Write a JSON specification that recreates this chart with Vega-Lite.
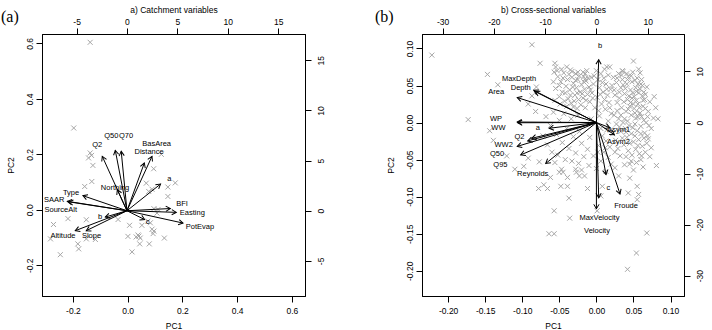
{
  "$schema": "https://vega.github.io/schema/vega-lite/v6.json",
  "background": "white",
  "padding": {"left": 0, "top": 4, "right": 0, "bottom": 0},
  "spacing": 49,
  "config": {
    "view": {"stroke": "black", "strokeWidth": 1},
    "font": "Liberation Sans",
    "axis": {
      "grid": false,
      "domainColor": "black",
      "tickColor": "black",
      "labelColor": "black",
      "titleColor": "black",
      "tickSize": 6,
      "labelFont": "Liberation Sans",
      "titleFont": "Liberation Sans",
      "labelFontSize": 8.5,
      "titleFontSize": 8.5,
      "titleFontWeight": "normal",
      "labelFlush": false,
      "labelOverlap": false
    }
  },
  "datasets": {
    "scoresA": [
      {"pc1": -0.137, "pc2": 0.604}, {"pc1": -0.197, "pc2": 0.295}, {"pc1": -0.137, "pc2": 0.205},
      {"pc1": -0.143, "pc2": 0.187}, {"pc1": -0.132, "pc2": 0.196}, {"pc1": -0.127, "pc2": 0.160},
      {"pc1": -0.131, "pc2": 0.102}, {"pc1": -0.157, "pc2": 0.084}, {"pc1": 0.123, "pc2": 0.200},
      {"pc1": 0.095, "pc2": 0.148}, {"pc1": 0.068, "pc2": 0.096}, {"pc1": 0.089, "pc2": 0.074},
      {"pc1": 0.077, "pc2": 0.066}, {"pc1": 0.174, "pc2": 0.097}, {"pc1": 0.147, "pc2": 0.082},
      {"pc1": 0.147, "pc2": 0.048}, {"pc1": -0.271, "pc2": -0.053}, {"pc1": -0.218, "pc2": -0.032},
      {"pc1": -0.151, "pc2": -0.036}, {"pc1": -0.035, "pc2": -0.035}, {"pc1": 0.007, "pc2": -0.056},
      {"pc1": 0.052, "pc2": -0.056}, {"pc1": 0.083, "pc2": -0.047}, {"pc1": 0.089, "pc2": -0.070},
      {"pc1": 0.096, "pc2": -0.077}, {"pc1": 0.093, "pc2": -0.086}, {"pc1": 0.001, "pc2": -0.096},
      {"pc1": 0.038, "pc2": -0.091}, {"pc1": 0.041, "pc2": -0.095}, {"pc1": 0.031, "pc2": -0.098},
      {"pc1": 0.046, "pc2": -0.102}, {"pc1": 0.134, "pc2": -0.102}, {"pc1": -0.282, "pc2": -0.105},
      {"pc1": -0.182, "pc2": -0.123}, {"pc1": -0.179, "pc2": -0.141}, {"pc1": -0.151, "pc2": -0.105},
      {"pc1": -0.118, "pc2": -0.107}, {"pc1": 0.044, "pc2": -0.123}, {"pc1": 0.079, "pc2": -0.123},
      {"pc1": 0.016, "pc2": -0.152}, {"pc1": -0.246, "pc2": -0.162}, {"pc1": 0.096, "pc2": 0.004},
      {"pc1": 0.111, "pc2": 0.001}, {"pc1": 0.107, "pc2": -0.012}, {"pc1": 0.074, "pc2": -0.041}
    ],
    "loadingsA": [
      {"var": "Q2", "u": -2.45, "v": 5.42, "lu": -2.95, "lv": 6.58},
      {"var": "Q50", "u": -1.16, "v": 6.02, "lu": -1.55, "lv": 7.42},
      {"var": "Q70", "u": -0.57, "v": 5.92, "lu": -0.1, "lv": 7.42},
      {"var": "BasArea", "u": 2.48, "v": 5.42, "lu": 2.94, "lv": 6.7},
      {"var": "Distance", "u": 1.72, "v": 4.76, "lu": 2.19, "lv": 5.88},
      {"var": "a", "u": 3.33, "v": 2.66, "lu": 4.2, "lv": 3.19},
      {"var": "Northing", "u": -0.96, "v": 2.09, "lu": -1.19, "lv": 2.26},
      {"var": "Type", "u": -4.37, "v": 1.5, "lu": -5.55, "lv": 1.76},
      {"var": "SAAR", "u": -5.92, "v": 0.94, "lu": -7.23, "lv": 1.04},
      {"var": "SourceAlt", "u": -5.79, "v": 0.89, "lu": -6.57, "lv": 0.04},
      {"var": "BFI", "u": 4.3, "v": 0.22, "lu": 5.46, "lv": 0.67},
      {"var": "Easting", "u": 4.89, "v": -0.16, "lu": 6.48, "lv": -0.23},
      {"var": "PotEvap", "u": 5.56, "v": -1.23, "lu": 7.24, "lv": -1.66},
      {"var": "c", "u": 1.75, "v": -0.88, "lu": 2.04, "lv": -1.16},
      {"var": "b", "u": -2.15, "v": -0.63, "lu": -2.68, "lv": -0.63},
      {"var": "Altitude", "u": -5.13, "v": -1.99, "lu": -6.35, "lv": -2.55},
      {"var": "Slope", "u": -4.04, "v": -1.99, "lu": -3.52, "lv": -2.55}
    ],
    "scoresB": [
      {"pc1": -0.222, "pc2": 0.091}, {"pc1": -0.087, "pc2": 0.105}, {"pc1": -0.076, "pc2": 0.080},
      {"pc1": -0.147, "pc2": 0.065}, {"pc1": -0.133, "pc2": 0.051}, {"pc1": -0.081, "pc2": 0.048},
      {"pc1": -0.087, "pc2": 0.036}, {"pc1": -0.092, "pc2": 0.025}, {"pc1": -0.082, "pc2": 0.015},
      {"pc1": -0.173, "pc2": 0.004}, {"pc1": -0.144, "pc2": -0.011}, {"pc1": -0.139, "pc2": -0.024},
      {"pc1": -0.121, "pc2": -0.045}, {"pc1": -0.092, "pc2": -0.048}, {"pc1": -0.077, "pc2": -0.053},
      {"pc1": -0.110, "pc2": -0.063}, {"pc1": -0.098, "pc2": -0.059}, {"pc1": -0.078, "pc2": -0.089},
      {"pc1": -0.071, "pc2": -0.084}, {"pc1": -0.066, "pc2": -0.089}, {"pc1": -0.048, "pc2": -0.086},
      {"pc1": -0.039, "pc2": -0.086}, {"pc1": -0.037, "pc2": -0.102}, {"pc1": -0.057, "pc2": -0.119},
      {"pc1": -0.036, "pc2": -0.129}, {"pc1": -0.064, "pc2": -0.150}, {"pc1": -0.057, "pc2": -0.150},
      {"pc1": 0.001, "pc2": -0.119}, {"pc1": 0.042, "pc2": -0.198}, {"pc1": 0.054, "pc2": -0.176},
      {"pc1": 0.068, "pc2": -0.149}, {"pc1": 0.055, "pc2": -0.086}, {"pc1": 0.057, "pc2": -0.097},
      {"pc1": 0.055, "pc2": -0.104}, {"pc1": 0.043, "pc2": -0.095}, {"pc1": -0.012, "pc2": -0.089},
      {"pc1": 0.008, "pc2": -0.086}, {"pc1": 0.006, "pc2": -0.099}, {"pc1": -0.023, "pc2": -0.072},
      {"pc1": -0.027, "pc2": -0.067}, {"pc1": -0.016, "pc2": -0.072}, {"pc1": -0.039, "pc2": -0.074},
      {"pc1": -0.050, "pc2": -0.067}, {"pc1": -0.028, "pc2": -0.063}, {"pc1": 0.081, "pc2": -0.058},
      {"pc1": 0.072, "pc2": -0.046}, {"pc1": 0.074, "pc2": -0.034}, {"pc1": 0.070, "pc2": -0.022},
      {"pc1": 0.069, "pc2": -0.018}, {"pc1": 0.061, "pc2": -0.045}, {"pc1": 0.054, "pc2": -0.054},
      {"pc1": 0.045, "pc2": -0.056}, {"pc1": -0.056, "pc2": -0.054}, {"pc1": -0.047, "pc2": -0.063},
      {"pc1": -0.045, "pc2": -0.067}, {"pc1": -0.062, "pc2": -0.074}, {"pc1": 0.050, "pc2": 0.083},
      {"pc1": -0.056, "pc2": 0.080}, {"pc1": -0.055, "pc2": 0.075}, {"pc1": -0.057, "pc2": 0.068},
      {"pc1": 0.014, "pc2": 0.075}, {"pc1": 0.018, "pc2": 0.075}, {"pc1": -0.018, "pc2": 0.068},
      {"pc1": -0.015, "pc2": 0.066}, {"pc1": 0.057, "pc2": 0.072}, {"pc1": 0.059, "pc2": 0.067},
      {"pc1": 0.036, "pc2": 0.069}, {"pc1": 0.041, "pc2": 0.066}, {"pc1": -0.033, "pc2": 0.069},
      {"pc1": -0.025, "pc2": 0.068}, {"pc1": -0.015, "pc2": 0.059}, {"pc1": 0.062, "pc2": 0.050},
      {"pc1": 0.064, "pc2": 0.041}, {"pc1": 0.062, "pc2": 0.036}, {"pc1": 0.065, "pc2": 0.031},
      {"pc1": 0.058, "pc2": 0.012}, {"pc1": 0.056, "pc2": 0.007},
      {"pc1": -0.052, "pc2": 0.062}, {"pc1": -0.048, "pc2": 0.055}, {"pc1": -0.044, "pc2": 0.067},
      {"pc1": -0.041, "pc2": 0.049}, {"pc1": -0.046, "pc2": 0.041}, {"pc1": -0.039, "pc2": 0.058},
      {"pc1": -0.036, "pc2": 0.044}, {"pc1": -0.033, "pc2": 0.061}, {"pc1": -0.031, "pc2": 0.053},
      {"pc1": -0.029, "pc2": 0.037}, {"pc1": -0.027, "pc2": 0.047}, {"pc1": -0.025, "pc2": 0.058},
      {"pc1": -0.022, "pc2": 0.041}, {"pc1": -0.020, "pc2": 0.051}, {"pc1": -0.018, "pc2": 0.033},
      {"pc1": -0.016, "pc2": 0.045}, {"pc1": -0.014, "pc2": 0.056}, {"pc1": -0.012, "pc2": 0.038},
      {"pc1": -0.010, "pc2": 0.048}, {"pc1": -0.009, "pc2": 0.028}, {"pc1": -0.038, "pc2": 0.032},
      {"pc1": -0.034, "pc2": 0.026}, {"pc1": -0.030, "pc2": 0.029}, {"pc1": -0.043, "pc2": 0.029},
      {"pc1": -0.050, "pc2": 0.035}, {"pc1": -0.055, "pc2": 0.046}, {"pc1": -0.058, "pc2": 0.055},
      {"pc1": -0.024, "pc2": 0.031}, {"pc1": -0.021, "pc2": 0.024}, {"pc1": -0.017, "pc2": 0.062},
      {"pc1": -0.013, "pc2": 0.070}, {"pc1": -0.028, "pc2": 0.066}, {"pc1": -0.035, "pc2": 0.071},
      {"pc1": -0.040, "pc2": 0.075}, {"pc1": -0.047, "pc2": 0.072}, {"pc1": -0.006, "pc2": 0.040},
      {"pc1": -0.004, "pc2": 0.052}, {"pc1": -0.007, "pc2": 0.061}, {"pc1": -0.026, "pc2": 0.019},
      {"pc1": -0.015, "pc2": 0.020},
      {"pc1": -0.053, "pc2": 0.070}, {"pc1": -0.050, "pc2": 0.050}, {"pc1": -0.045, "pc2": 0.060},
      {"pc1": -0.042, "pc2": 0.040}, {"pc1": -0.037, "pc2": 0.065}, {"pc1": -0.035, "pc2": 0.037},
      {"pc1": -0.032, "pc2": 0.048}, {"pc1": -0.028, "pc2": 0.057}, {"pc1": -0.026, "pc2": 0.040},
      {"pc1": -0.023, "pc2": 0.063}, {"pc1": -0.019, "pc2": 0.039}, {"pc1": -0.017, "pc2": 0.055},
      {"pc1": -0.014, "pc2": 0.030}, {"pc1": -0.011, "pc2": 0.060}, {"pc1": -0.008, "pc2": 0.044},
      {"pc1": -0.005, "pc2": 0.033}, {"pc1": -0.031, "pc2": 0.021}, {"pc1": -0.040, "pc2": 0.022},
      {"pc1": -0.049, "pc2": 0.025}, {"pc1": -0.056, "pc2": 0.030},
      {"pc1": -0.068, "pc2": 0.008}, {"pc1": -0.062, "pc2": -0.004}, {"pc1": -0.058, "pc2": 0.014},
      {"pc1": -0.054, "pc2": -0.016}, {"pc1": -0.050, "pc2": 0.003}, {"pc1": -0.046, "pc2": -0.027},
      {"pc1": -0.044, "pc2": 0.012}, {"pc1": -0.040, "pc2": -0.008}, {"pc1": -0.037, "pc2": -0.035},
      {"pc1": -0.034, "pc2": 0.005}, {"pc1": -0.031, "pc2": -0.019}, {"pc1": -0.028, "pc2": -0.041},
      {"pc1": -0.025, "pc2": 0.010}, {"pc1": -0.023, "pc2": -0.012}, {"pc1": -0.020, "pc2": -0.028},
      {"pc1": -0.017, "pc2": -0.046}, {"pc1": -0.066, "pc2": -0.030}, {"pc1": -0.060, "pc2": -0.040},
      {"pc1": -0.052, "pc2": -0.044}, {"pc1": -0.072, "pc2": -0.018}, {"pc1": -0.012, "pc2": -0.036},
      {"pc1": -0.009, "pc2": -0.020}, {"pc1": -0.042, "pc2": -0.050}, {"pc1": -0.033, "pc2": -0.052},
      {"pc1": -0.024, "pc2": -0.055},
      {"pc1": -0.003, "pc2": 0.063}, {"pc1": 0.002, "pc2": 0.058}, {"pc1": 0.006, "pc2": 0.066},
      {"pc1": 0.010, "pc2": 0.060}, {"pc1": 0.013, "pc2": 0.052}, {"pc1": 0.016, "pc2": 0.064},
      {"pc1": 0.004, "pc2": 0.047}, {"pc1": 0.009, "pc2": 0.041}, {"pc1": 0.015, "pc2": 0.037},
      {"pc1": 0.019, "pc2": 0.045}, {"pc1": 0.001, "pc2": 0.034}, {"pc1": 0.007, "pc2": 0.025},
      {"pc1": 0.012, "pc2": 0.018}, {"pc1": 0.017, "pc2": 0.027}, {"pc1": 0.020, "pc2": 0.012},
      {"pc1": -0.002, "pc2": 0.020}, {"pc1": 0.004, "pc2": 0.009}, {"pc1": 0.016, "pc2": 0.002},
      {"pc1": 0.019, "pc2": -0.010}, {"pc1": 0.008, "pc2": -0.018}, {"pc1": 0.013, "pc2": -0.025},
      {"pc1": 0.018, "pc2": -0.033}, {"pc1": 0.003, "pc2": -0.031}, {"pc1": 0.010, "pc2": -0.040},
      {"pc1": 0.016, "pc2": -0.047}, {"pc1": -0.004, "pc2": -0.045}, {"pc1": 0.006, "pc2": -0.052},
      {"pc1": 0.020, "pc2": -0.056}, {"pc1": -0.007, "pc2": 0.005}, {"pc1": 0.011, "pc2": 0.072},
      {"pc1": 0.000, "pc2": 0.070}, {"pc1": 0.008, "pc2": 0.054}, {"pc1": 0.005, "pc2": 0.038},
      {"pc1": 0.014, "pc2": 0.045}, {"pc1": 0.011, "pc2": 0.031}, {"pc1": 0.018, "pc2": 0.020},
      {"pc1": 0.003, "pc2": 0.016}, {"pc1": 0.014, "pc2": -0.010}, {"pc1": 0.006, "pc2": -0.008},
      {"pc1": 0.012, "pc2": -0.034}, {"pc1": 0.002, "pc2": -0.040},
      {"pc1": 0.023, "pc2": 0.061}, {"pc1": 0.027, "pc2": 0.054}, {"pc1": 0.030, "pc2": 0.066},
      {"pc1": 0.033, "pc2": 0.047}, {"pc1": 0.035, "pc2": 0.058}, {"pc1": 0.038, "pc2": 0.039},
      {"pc1": 0.041, "pc2": 0.052}, {"pc1": 0.043, "pc2": 0.062}, {"pc1": 0.046, "pc2": 0.044},
      {"pc1": 0.048, "pc2": 0.055}, {"pc1": 0.051, "pc2": 0.035}, {"pc1": 0.053, "pc2": 0.047},
      {"pc1": 0.055, "pc2": 0.060}, {"pc1": 0.057, "pc2": 0.040}, {"pc1": 0.060, "pc2": 0.052},
      {"pc1": 0.025, "pc2": 0.037}, {"pc1": 0.028, "pc2": 0.027}, {"pc1": 0.031, "pc2": 0.033},
      {"pc1": 0.034, "pc2": 0.020}, {"pc1": 0.037, "pc2": 0.028}, {"pc1": 0.040, "pc2": 0.015},
      {"pc1": 0.042, "pc2": 0.031}, {"pc1": 0.045, "pc2": 0.022}, {"pc1": 0.047, "pc2": 0.010},
      {"pc1": 0.050, "pc2": 0.025}, {"pc1": 0.052, "pc2": 0.013}, {"pc1": 0.054, "pc2": 0.030},
      {"pc1": 0.058, "pc2": 0.020}, {"pc1": 0.061, "pc2": 0.008}, {"pc1": 0.063, "pc2": 0.022},
      {"pc1": 0.024, "pc2": 0.010}, {"pc1": 0.027, "pc2": -0.002}, {"pc1": 0.030, "pc2": 0.005},
      {"pc1": 0.033, "pc2": -0.012}, {"pc1": 0.036, "pc2": 0.000}, {"pc1": 0.039, "pc2": -0.008},
      {"pc1": 0.041, "pc2": -0.020}, {"pc1": 0.044, "pc2": -0.004}, {"pc1": 0.047, "pc2": -0.015},
      {"pc1": 0.050, "pc2": -0.026}, {"pc1": 0.052, "pc2": -0.002}, {"pc1": 0.055, "pc2": -0.011},
      {"pc1": 0.057, "pc2": -0.023}, {"pc1": 0.060, "pc2": -0.005}, {"pc1": 0.062, "pc2": -0.032},
      {"pc1": 0.065, "pc2": -0.014}, {"pc1": 0.067, "pc2": 0.000}, {"pc1": 0.070, "pc2": 0.015},
      {"pc1": 0.066, "pc2": 0.038}, {"pc1": 0.068, "pc2": 0.048}, {"pc1": 0.072, "pc2": 0.028},
      {"pc1": 0.026, "pc2": -0.024}, {"pc1": 0.029, "pc2": -0.035}, {"pc1": 0.032, "pc2": -0.045},
      {"pc1": 0.037, "pc2": -0.030}, {"pc1": 0.043, "pc2": -0.038}, {"pc1": 0.048, "pc2": -0.044},
      {"pc1": 0.053, "pc2": -0.036}, {"pc1": 0.058, "pc2": -0.042}, {"pc1": 0.074, "pc2": -0.008},
      {"pc1": 0.077, "pc2": 0.006}, {"pc1": 0.035, "pc2": 0.070}, {"pc1": 0.049, "pc2": 0.068},
      {"pc1": 0.080, "pc2": 0.020}, {"pc1": 0.078, "pc2": 0.035}, {"pc1": 0.083, "pc2": 0.005},
      {"pc1": 0.021, "pc2": 0.050}, {"pc1": 0.024, "pc2": 0.044}, {"pc1": 0.028, "pc2": 0.060},
      {"pc1": 0.031, "pc2": 0.041}, {"pc1": 0.034, "pc2": 0.064}, {"pc1": 0.036, "pc2": 0.051},
      {"pc1": 0.039, "pc2": 0.046}, {"pc1": 0.042, "pc2": 0.058}, {"pc1": 0.044, "pc2": 0.036},
      {"pc1": 0.047, "pc2": 0.063}, {"pc1": 0.049, "pc2": 0.040}, {"pc1": 0.052, "pc2": 0.057},
      {"pc1": 0.054, "pc2": 0.042}, {"pc1": 0.056, "pc2": 0.052}, {"pc1": 0.059, "pc2": 0.045},
      {"pc1": 0.061, "pc2": 0.058}, {"pc1": 0.063, "pc2": 0.030}, {"pc1": 0.046, "pc2": 0.027},
      {"pc1": 0.043, "pc2": 0.018}, {"pc1": 0.048, "pc2": 0.033}, {"pc1": 0.051, "pc2": 0.019},
      {"pc1": 0.053, "pc2": 0.006}, {"pc1": 0.056, "pc2": 0.025}, {"pc1": 0.059, "pc2": 0.013},
      {"pc1": 0.064, "pc2": 0.003}, {"pc1": 0.066, "pc2": 0.019}, {"pc1": 0.069, "pc2": 0.008},
      {"pc1": 0.071, "pc2": -0.004}, {"pc1": 0.068, "pc2": -0.028}, {"pc1": 0.064, "pc2": -0.021},
      {"pc1": 0.060, "pc2": -0.015}, {"pc1": 0.056, "pc2": -0.031}, {"pc1": 0.052, "pc2": -0.018},
      {"pc1": 0.049, "pc2": -0.007}, {"pc1": 0.045, "pc2": -0.028}, {"pc1": 0.040, "pc2": -0.013},
      {"pc1": 0.035, "pc2": -0.021}, {"pc1": 0.031, "pc2": -0.006}, {"pc1": 0.028, "pc2": 0.016},
      {"pc1": 0.033, "pc2": 0.010}, {"pc1": 0.038, "pc2": 0.005}, {"pc1": 0.042, "pc2": 0.002},
      {"pc1": 0.022, "pc2": -0.015}, {"pc1": 0.025, "pc2": -0.040}, {"pc1": 0.040, "pc2": -0.046},
      {"pc1": 0.047, "pc2": -0.052}, {"pc1": 0.060, "pc2": -0.050}, {"pc1": 0.066, "pc2": -0.040},
      {"pc1": -0.010, "pc2": -0.058}, {"pc1": 0.000, "pc2": -0.062}, {"pc1": 0.013, "pc2": -0.066},
      {"pc1": 0.025, "pc2": -0.061}, {"pc1": 0.038, "pc2": -0.057}, {"pc1": 0.050, "pc2": -0.064},
      {"pc1": 0.063, "pc2": -0.060}, {"pc1": -0.020, "pc2": -0.064}, {"pc1": 0.030, "pc2": -0.072},
      {"pc1": 0.045, "pc2": -0.075}
    ],
    "loadingsB": [
      {"var": "b", "u": 0.45, "v": 12.3, "lu": 0.7, "lv": 15.03},
      {"var": "MaxDepth", "u": -12.23, "v": 6.31, "lu": -15.1, "lv": 8.47},
      {"var": "Depth", "u": -11.94, "v": 6.07, "lu": -14.77, "lv": 6.82},
      {"var": "Area", "u": -15.45, "v": 4.89, "lu": -19.55, "lv": 5.97},
      {"var": "WP", "u": -15.45, "v": 0.1, "lu": -19.59, "lv": 0.71},
      {"var": "WW", "u": -15.36, "v": -0.04, "lu": -19.12, "lv": -0.99},
      {"var": "a", "u": -9.21, "v": -1.12, "lu": -11.45, "lv": -1.12},
      {"var": "Q2", "u": -12.62, "v": -3.09, "lu": -15.0, "lv": -2.8},
      {"var": "WW2", "u": -13.4, "v": -3.59, "lu": -18.1, "lv": -4.45},
      {"var": "Q50", "u": -15.45, "v": -4.67, "lu": -19.4, "lv": -6.1},
      {"var": "Q95", "u": -14.77, "v": -6.34, "lu": -18.73, "lv": -8.28},
      {"var": "Reynolds", "u": -9.89, "v": -8.02, "lu": -12.43, "lv": -10.13},
      {"var": "Asym1", "u": 2.6, "v": -1.0, "lu": 4.35, "lv": -1.46},
      {"var": "Asym2", "u": 3.5, "v": -2.4, "lu": 4.29, "lv": -3.88},
      {"var": "c", "u": 1.87, "v": -10.2, "lu": 2.34, "lv": -12.75},
      {"var": "Froude", "u": 4.6, "v": -14.0, "lu": 5.78, "lv": -16.35},
      {"var": "MaxVelocity", "u": 0.45, "v": -14.72, "lu": 0.59, "lv": -18.66},
      {"var": "Velocity", "u": 0.0, "v": -16.9, "lu": 0.12, "lv": -21.28}
    ]
  },
  "hconcat": [
    {
      "width": 263,
      "height": 262,
      "title": {"text": "(a)", "anchor": "start", "frame": "bounds", "font": "Liberation Serif", "fontSize": 16, "fontWeight": "normal", "color": "black", "offset": 0, "dx": -5, "dy": 20},
      "resolve": {"scale": {"x": "independent", "y": "independent"}},
      "layer": [
        {
          "data": {"name": "scoresA"},
          "mark": {"type": "point", "shape": "M-1,-1L1,1M-1,1L1,-1", "filled": false, "stroke": "#a6a6a6", "strokeWidth": 1, "size": 25, "opacity": 1},
          "encoding": {
            "x": {"field": "pc1", "type": "quantitative", "scale": {"domain": [-0.313, 0.648], "nice": false, "zero": false},
              "axis": {"orient": "bottom", "title": "PC1", "values": [-0.2, 0, 0.2, 0.4, 0.6], "format": ".1f", "labelExpr": "replace(datum.label, '\u2212', '-')", "labelPadding": 4, "titlePadding": 7}},
            "y": {"field": "pc2", "type": "quantitative", "scale": {"domain": [-0.311, 0.634], "nice": false, "zero": false},
              "axis": {"orient": "left", "title": "PC2", "values": [-0.2, 0, 0.2, 0.4, 0.6], "format": ".1f", "labelExpr": "replace(datum.label, '\u2212', '-')", "labelAngle": 270, "labelAlign": "center", "labelBaseline": "bottom", "labelPadding": 2, "titlePadding": 10}}
          }
        },
        {
          "data": {"name": "loadingsA"},
          "encoding": {
            "x": {"field": "u", "type": "quantitative", "scale": {"domain": [-8.43, 17.66], "nice": false, "zero": false},
              "axis": {"orient": "top", "title": "a) Catchment variables", "values": [-5, 0, 5, 10, 15], "labelExpr": "replace(datum.label, '\u2212', '-')", "labelPadding": 2, "titlePadding": 3}},
            "y": {"field": "v", "type": "quantitative", "scale": {"domain": [-8.5, 17.62], "nice": false, "zero": false},
              "axis": {"orient": "right", "title": null, "values": [-5, 0, 5, 10, 15], "labelExpr": "replace(datum.label, '\u2212', '-')", "labelAngle": 270, "labelAlign": "center", "labelBaseline": "top", "labelPadding": 5}}
          },
          "layer": [
            {"mark": {"type": "rule", "color": "black", "strokeWidth": 1}, "encoding": {"x2": {"datum": 0}, "y2": {"datum": 0}}},
            {
              "transform": [{"calculate": "atan2(-datum.v, datum.u) * 180 / PI + 360", "as": "heading"}],
              "mark": {"type": "point", "shape": "M-1,-0.58L0,0L-1,0.58", "filled": false, "stroke": "black", "strokeWidth": 1, "size": 81, "opacity": 1},
              "encoding": {"angle": {"field": "heading", "type": "quantitative", "scale": null}}
            },
            {
              "mark": {"type": "text", "font": "Liberation Sans", "fontSize": 7.5, "fill": "black", "align": "center", "baseline": "middle"},
              "encoding": {
                "x": {"field": "lu", "type": "quantitative", "axis": {"orient": "top", "title": "a) Catchment variables", "values": [-5, 0, 5, 10, 15], "labelExpr": "replace(datum.label, '\u2212', '-')", "labelPadding": 2, "titlePadding": 3}},
                "y": {"field": "lv", "type": "quantitative", "axis": {"orient": "right", "title": null, "values": [-5, 0, 5, 10, 15], "labelExpr": "replace(datum.label, '\u2212', '-')", "labelAngle": 270, "labelAlign": "center", "labelBaseline": "top", "labelPadding": 5}},
                "text": {"field": "var"}
              }
            }
          ]
        }
      ]
    },
    {
      "width": 262,
      "height": 262,
      "title": {"text": "(b)", "anchor": "start", "frame": "bounds", "font": "Liberation Serif", "fontSize": 16, "fontWeight": "normal", "color": "black", "offset": 0, "dx": -11, "dy": 20},
      "resolve": {"scale": {"x": "independent", "y": "independent"}},
      "layer": [
        {
          "data": {"name": "scoresB"},
          "mark": {"type": "point", "shape": "M-1,-1L1,1M-1,1L1,-1", "filled": false, "stroke": "#a6a6a6", "strokeWidth": 1, "size": 25, "opacity": 1},
          "encoding": {
            "x": {"field": "pc1", "type": "quantitative", "scale": {"domain": [-0.2353, 0.1182], "nice": false, "zero": false},
              "axis": {"orient": "bottom", "title": "PC1", "values": [-0.2, -0.15, -0.1, -0.05, 0, 0.05, 0.1], "format": ".2f", "labelExpr": "replace(datum.label, '\u2212', '-')", "labelPadding": 4, "titlePadding": 7}},
            "y": {"field": "pc2", "type": "quantitative", "scale": {"domain": [-0.234, 0.1195], "nice": false, "zero": false},
              "axis": {"orient": "left", "title": "PC2", "values": [-0.2, -0.15, -0.1, -0.05, 0, 0.05, 0.1], "format": ".2f", "labelExpr": "replace(datum.label, '\u2212', '-')", "labelAngle": 270, "labelAlign": "center", "labelBaseline": "bottom", "labelPadding": 2, "titlePadding": 10}}
          }
        },
        {
          "data": {"name": "loadingsB"},
          "encoding": {
            "x": {"field": "u", "type": "quantitative", "scale": {"domain": [-34.03, 17.09], "nice": false, "zero": false},
              "axis": {"orient": "top", "title": "b) Cross-sectional variables", "values": [-30, -20, -10, 0, 10], "labelExpr": "replace(datum.label, '\u2212', '-')", "labelPadding": 2, "titlePadding": 3}},
            "y": {"field": "v", "type": "quantitative", "scale": {"domain": [-33.97, 17.34], "nice": false, "zero": false},
              "axis": {"orient": "right", "title": null, "values": [-30, -20, -10, 0, 10], "labelExpr": "replace(datum.label, '\u2212', '-')", "labelAngle": 270, "labelAlign": "center", "labelBaseline": "top", "labelPadding": 5}}
          },
          "layer": [
            {"mark": {"type": "rule", "color": "black", "strokeWidth": 1}, "encoding": {"x2": {"datum": 0}, "y2": {"datum": 0}}},
            {
              "transform": [{"calculate": "atan2(-datum.v, datum.u) * 180 / PI + 360", "as": "heading"}],
              "mark": {"type": "point", "shape": "M-1,-0.58L0,0L-1,0.58", "filled": false, "stroke": "black", "strokeWidth": 1, "size": 81, "opacity": 1},
              "encoding": {"angle": {"field": "heading", "type": "quantitative", "scale": null}}
            },
            {
              "mark": {"type": "text", "font": "Liberation Sans", "fontSize": 7.5, "fill": "black", "align": "center", "baseline": "middle"},
              "encoding": {
                "x": {"field": "lu", "type": "quantitative", "axis": {"orient": "top", "title": "b) Cross-sectional variables", "values": [-30, -20, -10, 0, 10], "labelExpr": "replace(datum.label, '\u2212', '-')", "labelPadding": 2, "titlePadding": 3}},
                "y": {"field": "lv", "type": "quantitative", "axis": {"orient": "right", "title": null, "values": [-30, -20, -10, 0, 10], "labelExpr": "replace(datum.label, '\u2212', '-')", "labelAngle": 270, "labelAlign": "center", "labelBaseline": "top", "labelPadding": 5}},
                "text": {"field": "var"}
              }
            }
          ]
        }
      ]
    }
  ]
}
